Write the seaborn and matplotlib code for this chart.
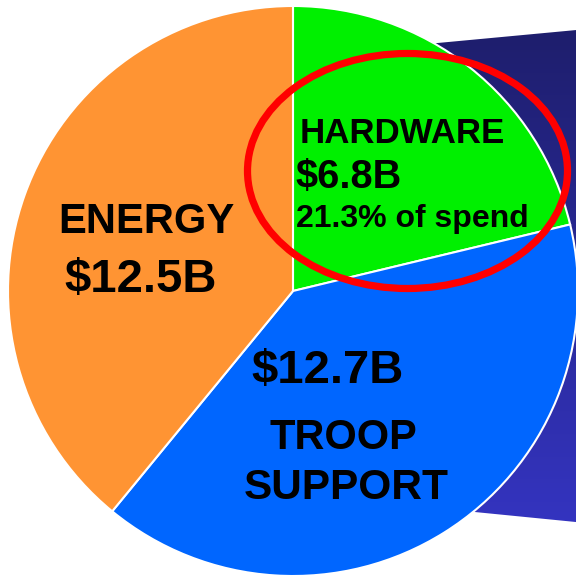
import numpy as np
import seaborn as sns
import matplotlib.pyplot as plt
from matplotlib.patches import Ellipse, Polygon

sns.set_theme(style='white')
plt.rcParams['font.family'] = ['Liberation Sans', 'DejaVu Sans']

# spending by category, $B (clockwise from the top)
categories = ['HARDWARE', 'TROOP SUPPORT', 'ENERGY']
spend = [6.8, 12.7, 12.5]
colors = ['#00F000', '#0066FF', '#FF9433']
amount_labels = ['$6.8B', '$12.7B', '$12.5B']
share_label = '21.3% of spend'

fig = plt.figure(figsize=(5.76, 5.75), dpi=100)
ax = fig.add_axes([0, 0, 1, 1])

# pixel-like coordinates, y measured from the bottom
cx, cy, r = 293, 284, 285

# dark backdrop behind the right side of the pie (gradient)
backdrop = Polygon([(380, 526.6), (600, 547.2), (600, 50.6), (400, 70.4)],
                   closed=True, facecolor='none', edgecolor='none')
ax.add_patch(backdrop)
grad = np.linspace(0, 1, 256).reshape(-1, 1)
top_c = np.array([30, 30, 108]) / 255
bot_c = np.array([52, 52, 192]) / 255
img = top_c + (bot_c - top_c) * grad[:, :, None]
im = ax.imshow(img[::-1], extent=[380, 600, 50, 548], origin='lower',
               aspect='auto', zorder=0)
im.set_clip_path(backdrop)

ax.pie(spend, colors=colors, startangle=90, counterclock=False,
       center=(cx, cy), radius=r,
       wedgeprops=dict(edgecolor='white', linewidth=1.5, zorder=1))

# red highlight ring round the hardware slice
ax.add_patch(Ellipse((407.5, 404), 320, 235, fill=False,
                     edgecolor='#FF0000', linewidth=5.2, zorder=3))

txt = dict(fontweight='bold', color='black', ha='left', va='baseline', zorder=4)
ax.text(300, 432.3, categories[0], fontsize=25.1, **txt)
ax.text(296, 387, amount_labels[0], fontsize=28.6, **txt)
ax.text(296, 347.5, share_label, fontsize=23, **txt)

ax.text(58, 342.3, categories[2], fontsize=30.1, **txt)
ax.text(64, 283.3, amount_labels[2], fontsize=34, **txt)

ax.text(251, 192.3, amount_labels[1], fontsize=34, **txt)
ax.text(269, 126, 'TROOP', fontsize=29.9, **txt)
ax.text(244, 76, 'SUPPORT', fontsize=30.5, **txt)

ax.set_xlim(0, 576)
ax.set_ylim(0, 575)
ax.set_aspect('auto')
ax.axis('off')

fig.savefig('out.png', dpi=100)
